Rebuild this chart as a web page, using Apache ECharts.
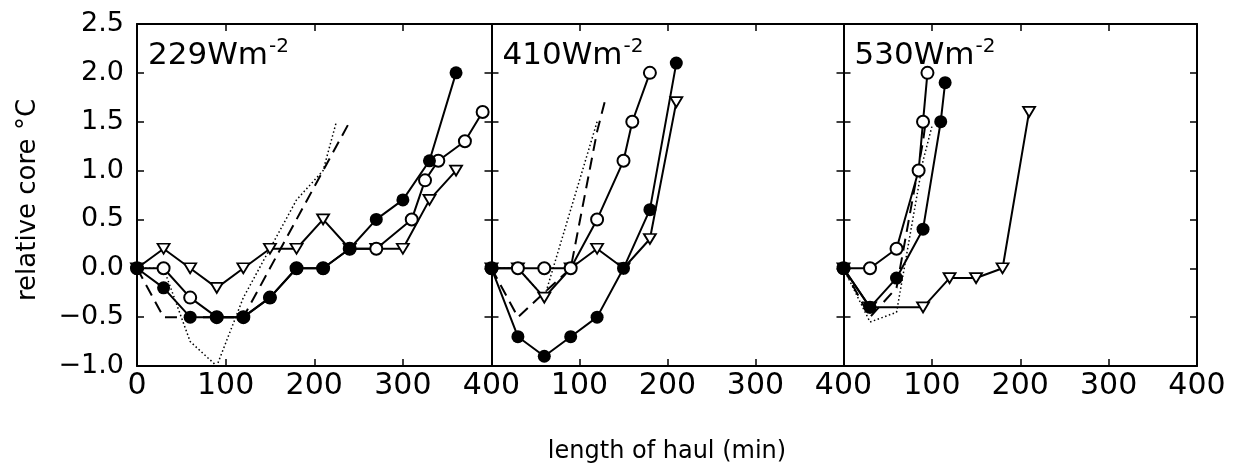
<!DOCTYPE html>
<html>
<head>
<meta charset="utf-8">
<script src="https://cdn.jsdelivr.net/npm/echarts@6/dist/echarts.min.js"></script>
<style>
  html, body { margin: 0; padding: 0; background: #fff; }
  #chart { width: 1237px; height: 468px; }
</style>
</head>
<body>
<div id="chart"></div>
<script>
// Axis ticks shared by the three panels
const xTicks = [0, 100, 200, 300, 400];
const yTicks = [-1.0, -0.5, 0.0, 0.5, 1.0, 1.5, 2.0, 2.5];

// Irradiance of each panel (W m^-2)
const panelIrradiance = ['229', '410', '530'];

// Panel 1: 229 W m^-2  — [haul length (min), relative core temperature (°C)]
const p1Filled = [[0,0],[30,-0.2],[60,-0.5],[90,-0.5],[120,-0.5],[150,-0.3],[180,0],[210,0],[240,0.2],[270,0.5],[300,0.7],[330,1.1],[360,2.0]];
const p1Open   = [[0,0],[30,0],[60,-0.3],[90,-0.5],[120,-0.5],[150,-0.3],[180,0],[210,0],[240,0.2],[270,0.2],[310,0.5],[325,0.9],[340,1.1],[370,1.3],[390,1.6]];
const p1Tri    = [[0,0],[30,0.2],[60,0],[90,-0.2],[120,0],[150,0.2],[180,0.2],[210,0.5],[240,0.2],[270,0.2],[300,0.2],[330,0.7],[360,1.0]];
const p1Dashed = [[0,0],[30,-0.5],[60,-0.5],[90,-0.5],[120,-0.5],[150,0],[180,0.5],[210,1.0],[240,1.5]];
const p1Dotted = [[0,0],[30,0],[60,-0.75],[90,-1.0],[120,-0.3],[150,0.2],[180,0.7],[210,1.0],[225,1.5]];

// Panel 2: 410 W m^-2
const p2Filled = [[0,0],[30,-0.7],[60,-0.9],[90,-0.7],[120,-0.5],[150,0],[180,0.6],[210,2.1]];
const p2Open   = [[0,0],[30,0],[60,0],[90,0],[120,0.5],[150,1.1],[160,1.5],[180,2.0]];
const p2Tri    = [[0,0],[30,0],[60,-0.3],[90,0],[120,0.2],[150,0],[180,0.3],[210,1.7]];
const p2Dashed = [[0,0],[30,-0.5],[60,-0.25],[90,0],[120,1.4],[130,1.75]];
const p2Dotted = [[0,0],[30,0],[60,-0.3],[90,0.6],[120,1.5]];

// Panel 3: 530 W m^-2
const p3Filled = [[0,0],[30,-0.4],[60,-0.1],[90,0.4],[110,1.5],[115,1.9]];
const p3Open   = [[0,0],[30,0],[60,0.2],[85,1.0],[90,1.5],[95,2.0]];
const p3Tri    = [[0,0],[30,-0.4],[90,-0.4],[120,-0.1],[150,-0.1],[180,0],[210,1.6]];
const p3Dashed = [[0,0],[30,-0.5],[60,-0.2],[90,1.3],[93,1.5]];
const p3Dotted = [[0,0],[30,-0.55],[60,-0.45],[90,1.1],[100,1.45]];

const panels = [
  { filled: p1Filled, open: p1Open, tri: p1Tri, dashed: p1Dashed, dotted: p1Dotted },
  { filled: p2Filled, open: p2Open, tri: p2Tri, dashed: p2Dashed, dotted: p2Dotted },
  { filled: p3Filled, open: p3Open, tri: p3Tri, dashed: p3Dashed, dotted: p3Dotted }
];

const FONT = 'DejaVu Sans';
const gridLefts = [137, 491.5, 843.5];
const gridWidths = [354.5, 352, 353.5];
const gridTop = 24, gridHeight = 342;

const axisLine = { show: true, onZero: false, lineStyle: { color: '#000', width: 2 } };
const tickIn = { show: true, inside: true, length: 7, lineStyle: { color: '#000', width: 1.5 } };

const grids = [], xAxes = [], yAxes = [], series = [];

panels.forEach((p, i) => {
  grids.push({ left: gridLefts[i], top: gridTop, width: gridWidths[i], height: gridHeight, containLabel: false });

  // bottom axis with labels
  xAxes.push({
    type: 'value', gridIndex: i, position: 'bottom', min: xTicks[0], max: xTicks[xTicks.length - 1], interval: 100,
    axisLine, axisTick: tickIn, splitLine: { show: false },
    axisLabel: { show: true, showMinLabel: i === 0, color: '#000', fontFamily: FONT, fontSize: 30, margin: 5 }
  });
  // top axis, ticks only
  xAxes.push({
    type: 'value', gridIndex: i, position: 'top', min: xTicks[0], max: xTicks[xTicks.length - 1], interval: 100,
    axisLine, axisTick: tickIn, splitLine: { show: false }, axisLabel: { show: false }
  });
  // left axis, labelled on the first panel only
  yAxes.push({
    type: 'value', gridIndex: i, position: 'left', min: yTicks[0], max: yTicks[yTicks.length - 1], interval: 0.5,
    axisLine, axisTick: tickIn, splitLine: { show: false },
    axisLabel: {
      show: i === 0, color: '#000', fontFamily: FONT, fontSize: 27, margin: 13,
      formatter: v => (v < 0 ? '\u2212' : '') + Math.abs(v).toFixed(1)
    }
  });
  // right axis, ticks only
  yAxes.push({
    type: 'value', gridIndex: i, position: 'right', min: yTicks[0], max: yTicks[yTicks.length - 1], interval: 0.5,
    axisLine, axisTick: tickIn, splitLine: { show: false }, axisLabel: { show: false }
  });

  const xi = i * 2, yi = i * 2;
  const base = { type: 'line', xAxisIndex: xi, yAxisIndex: yi, animation: false, silent: true };

  series.push(Object.assign({}, base, {
    name: 'dotted' + i, data: p.dotted, showSymbol: false, symbol: 'none',
    lineStyle: { color: '#000', width: 1.5, type: [1.5, 2.5] }, z: 2
  }));
  series.push(Object.assign({}, base, {
    name: 'dashed' + i, data: p.dashed, showSymbol: false, symbol: 'none',
    lineStyle: { color: '#000', width: 2, type: [12, 7] }, z: 2
  }));
  series.push(Object.assign({}, base, {
    name: 'triangle' + i, data: p.tri, symbol: 'triangle', symbolRotate: 180, symbolSize: [12, 10],
    lineStyle: { color: '#000', width: 2 },
    itemStyle: { color: '#fff', borderColor: '#000', borderWidth: 1.8 }, z: 3
  }));
  series.push(Object.assign({}, base, {
    name: 'open' + i, data: p.open, symbol: 'circle', symbolSize: 12,
    lineStyle: { color: '#000', width: 2 },
    itemStyle: { color: '#fff', borderColor: '#000', borderWidth: 2 }, z: 4
  }));
  series.push(Object.assign({}, base, {
    name: 'filled' + i, data: p.filled, symbol: 'circle', symbolSize: 13,
    lineStyle: { color: '#000', width: 2 },
    itemStyle: { color: '#000', borderColor: '#000', borderWidth: 0 }, z: 5
  }));
});

// Panel captions with the W m^-2 superscript, and the axis titles
const graphics = panelIrradiance.map((w, i) => ({
  type: 'text', left: gridLefts[i] + 11, top: 28, z: 10,
  style: {
    text: '{m|' + w + 'Wm}{s|-2}',
    rich: {
      m: { fontFamily: FONT, fontSize: 31, lineHeight: 34, padding: [12, 0, 0, 0], fill: '#000', verticalAlign: 'bottom' },
      s: { fontFamily: FONT, fontSize: 20, lineHeight: 21, fill: '#000', verticalAlign: 'top', padding: [0, 0, 0, 1] }
    }
  }
}));
graphics.push({
  type: 'text', x: 28, y: 200, rotation: Math.PI / 2,
  style: { text: 'relative core \u00B0C', fontFamily: FONT, fontSize: 26, fill: '#000', align: 'center', verticalAlign: 'middle' }
});
graphics.push({
  type: 'text', x: 667, y: 452,
  style: { text: 'length of haul (min)', fontFamily: FONT, fontSize: 24, fill: '#000', align: 'center', verticalAlign: 'middle' }
});

const chart = echarts.init(document.getElementById('chart'), null, { renderer: 'canvas' });
chart.setOption({
  backgroundColor: '#fff',
  animation: false,
  grid: grids,
  xAxis: xAxes,
  yAxis: yAxes,
  series: series,
  graphic: graphics
});
</script>
</body>
</html>
